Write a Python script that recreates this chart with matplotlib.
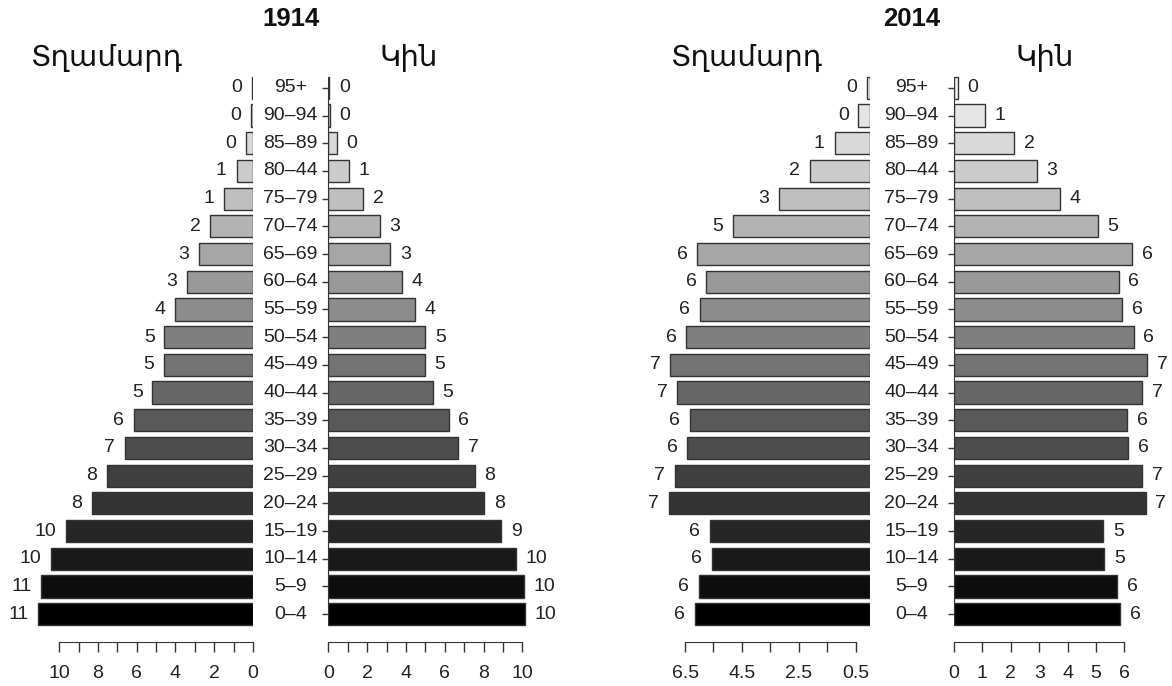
import numpy as np
import matplotlib
matplotlib.use("Agg")
import matplotlib.pyplot as plt
from matplotlib.ticker import FixedLocator, NullFormatter
from matplotlib.transforms import blended_transform_factory

plt.rcParams['font.family'] = ['Liberation Sans', 'DejaVu Sans']

# age groups, bottom to top (label "80–44" kept as in the source)
ages = ["0–4", "5–9", "10–14", "15–19", "20–24", "25–29", "30–34", "35–39",
        "40–44", "45–49", "50–54", "55–59", "60–64", "65–69", "70–74",
        "75–79", "80–44", "85–89", "90–94", "95+"]

# share of population, %
male_1914 = [11.07, 10.92, 10.41, 9.63, 8.33, 7.55, 6.63, 6.14, 5.19, 4.59,
             4.57, 4.01, 3.39, 2.78, 2.2, 1.48, 0.85, 0.35, 0.12, 0.05]
female_1914 = [10.14, 10.09, 9.65, 8.9, 8.05, 7.55, 6.7, 6.2, 5.37, 4.96,
               5.0, 4.45, 3.8, 3.19, 2.65, 1.8, 1.06, 0.42, 0.08, 0.04]
male_2014 = [6.16, 6.01, 5.56, 5.62, 7.08, 6.87, 6.42, 6.33, 6.78, 7.02,
             6.46, 5.98, 5.75, 6.07, 4.81, 3.2, 2.11, 1.24, 0.4, 0.1]
female_2014 = [5.84, 5.74, 5.29, 5.25, 6.75, 6.62, 6.13, 6.1, 6.62, 6.8,
               6.32, 5.92, 5.8, 6.26, 5.06, 3.72, 2.91, 2.13, 1.09, 0.13]

male_txt = "Տղամարդ"
female_txt = "Կին"

W, H = 1172, 686
fig = plt.figure(figsize=(W / 100, H / 100), dpi=100)

ROW_TOP, ROW_BOTTOM = 74, 628   # px of ylim edges (-0.5 .. 19.5)
grays = [(g, g, g) for g in np.linspace(0.0, 0.95, len(ages))]
y = np.arange(len(ages))


def side(x_left, x_right, zero_px, ppu, vals, male, major, minor, bounds, fmt):
    ax = fig.add_axes([x_left / W, 1 - ROW_BOTTOM / H,
                       (x_right - x_left) / W, (ROW_BOTTOM - ROW_TOP) / H])
    if male:
        ax.set_xlim((zero_px - x_left) / ppu, 0)
    else:
        ax.set_xlim(0, (x_right - zero_px) / ppu)
    ax.set_ylim(-0.5, len(ages) - 0.5)
    ax.barh(y, vals, height=0.8, color=grays, edgecolor="#333333", linewidth=1)
    for i, v in enumerate(vals):
        ax.annotate(str(int(round(v))), xy=(v, i),
                    xytext=(-7 if male else 7, 0), textcoords="offset points",
                    ha="right" if male else "left", va="center", fontsize=14,
                    color="#222222")
    for s in ["top", "right", "left"]:
        ax.spines[s].set_visible(False)
    ax.spines["bottom"].set_position(("outward", 10))
    ax.spines["bottom"].set_bounds(*bounds)
    ax.spines["bottom"].set_color("#333333")
    ax.xaxis.set_major_locator(FixedLocator(major))
    ax.xaxis.set_minor_locator(FixedLocator(minor))
    ax.set_xticklabels([fmt(t) for t in major])
    ax.tick_params(axis="x", which="both", direction="out", length=7.5,
                   width=1, color="#333333", pad=9, labelsize=14,
                   labelcolor="#222222")
    if male:
        ax.set_yticks([])
    else:
        ax.spines["left"].set_visible(True)
        ax.spines["left"].set_bounds(0, len(ages) - 1)
        ax.spines["left"].set_color("#333333")
        ax.set_yticks(y)
        ax.yaxis.set_major_formatter(NullFormatter())
        ax.tick_params(axis="y", direction="out", length=4, width=1,
                       color="#333333")
    ax.patch.set_alpha(0)
    return ax


# 1914
side(15, 253, 253, 19.38, male_1914, True,
     [0, 2, 4, 6, 8, 10], [1, 3, 5, 7, 9], (0, 10), lambda t: f"{t:g}")
ax_f14 = side(328.4, 570, 328.4, 19.39, female_1914, False,
              [0, 2, 4, 6, 8, 10], [1, 3, 5, 7, 9], (0, 10), lambda t: f"{t:g}")

# 2014
side(630, 869.8, 869.8, 28.42, male_2014, True,
     [0.5, 2.5, 4.5, 6.5], [1.5, 3.5, 5.5], (0.5, 6.5), lambda t: f"{t:.1f}")
ax_f24 = side(953.9, 1170, 953.9, 28.42, female_2014, False,
              [0, 1, 2, 3, 4, 5, 6], [], (0, 6), lambda t: f"{t:g}")

# age labels between the halves
for ax, xc in [(ax_f14, 290.5), (ax_f24, 911.5)]:
    tr = blended_transform_factory(fig.transFigure, ax.transData)
    for i, a in enumerate(ages):
        ax.text(xc / W, i, a, transform=tr, ha="center", va="center",
                fontsize=14, color="#222222", clip_on=False)

# titles and side headers
for xc, yr in [(290.5, "1914"), (911.5, "2014")]:
    fig.text(xc / W, 1 - 19 / H, yr, ha="center", va="center",
             fontsize=18.5, fontweight="bold", color="#111111")
for xc, txt in [(107, male_txt), (409, female_txt),
                (747, male_txt), (1045, female_txt)]:
    fig.text(xc / W, 1 - 66 / H, txt, ha="center", va="baseline",
             fontsize=21, color="#111111", family=["DejaVu Sans"])

fig.savefig("out.png", dpi=100)
